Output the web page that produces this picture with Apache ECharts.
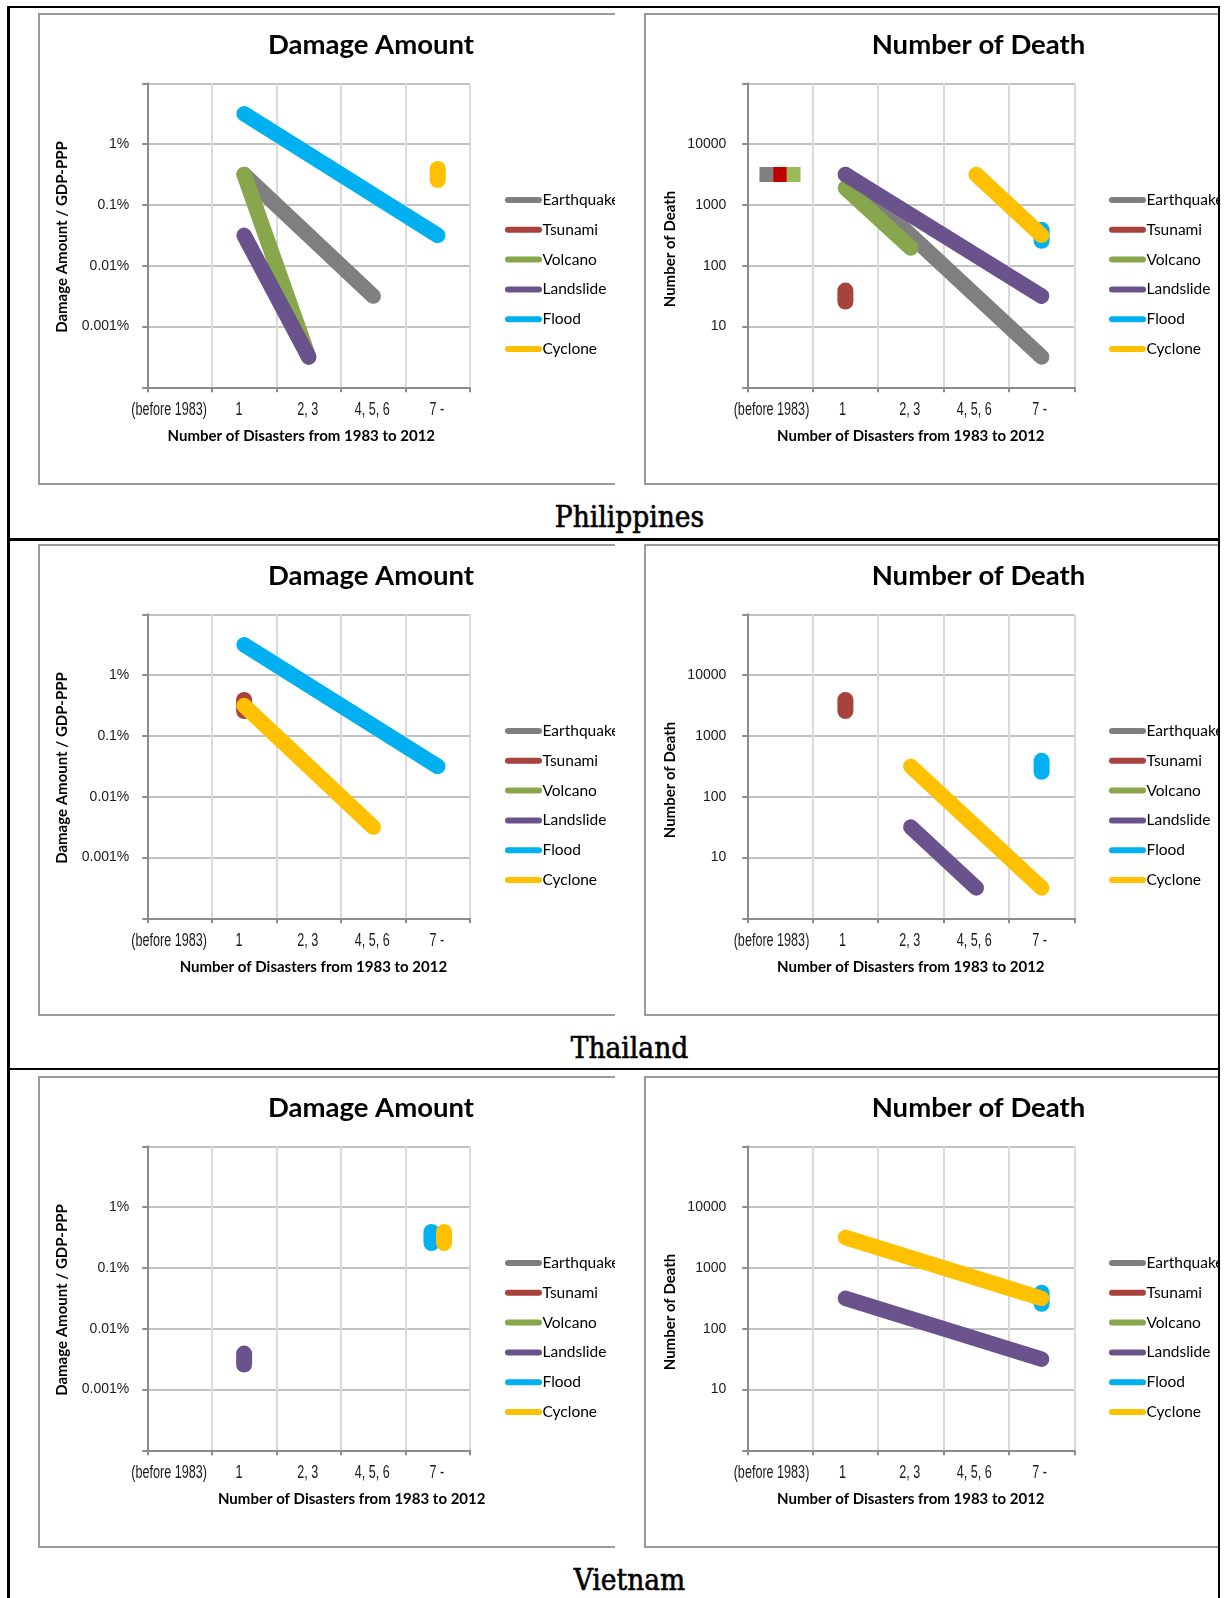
<!DOCTYPE html>
<html>
<head>
<meta charset="utf-8">
<title>Damage Amount and Number of Death by disaster frequency</title>
<script src="https://cdn.jsdelivr.net/npm/echarts@6/dist/echarts.min.js"></script>
<style>
  html, body { margin: 0; padding: 0; background: #fff; }
  #page { position: relative; width: 1226px; height: 1598px; overflow: hidden; background: #fff; }
  .rule { position: absolute; background: #000; z-index: 5; }
  .box { position: absolute; border: 2px solid #9a9a9a; border-right: none; overflow: hidden; background: #fff; }
  .chart { position: absolute; left: 0; top: 0; }
  .country { position: absolute; font-family: 'DejaVu Serif Condensed', 'DejaVu Serif', 'Liberation Serif', serif;
             font-stretch: condensed; font-size: 29.5px; line-height: 32px; color: #000; white-space: nowrap;
             -webkit-text-stroke: 0.6px #000; transform: translateX(-50%); }
</style>
</head>
<body>
<div id="page"></div>
<script>
// ---- categories, series names, tick labels ----
const categories = ['(before 1983)', '1', '2, 3', '4, 5, 6', '7 -'];
const hazards = ['Earthquake', 'Tsunami', 'Volcano', 'Landslide', 'Flood', 'Cyclone'];
const countries = ['Philippines', 'Thailand', 'Vietnam'];
// y tick labels, one per decade from the axis minimum upward
const damageTickLabels = ['', '0.001%', '0.01%', '0.1%', '1%', ''];
const deathTickLabels = ['', '10', '100', '1000', '10000', ''];

// ---- Philippines: damage amount (% of GDP-PPP) ----
const phDamageEarthquake = [null, 0.316, null, 0.00316, null];
const phDamageTsunami    = [null, null, null, null, null];
const phDamageVolcano    = [null, 0.316, 0.000316, null, null];
const phDamageLandslide  = [null, 0.0316, 0.000316, null, null];
const phDamageFlood      = [null, 3.16, null, null, 0.0316];
const phDamageCyclone    = [null, null, null, null, 0.316];
// ---- Philippines: number of death ----
const phDeathEarthquake = [null, 3162, null, null, 3.16];
const phDeathTsunami    = [null, 31.6, null, null, null];
const phDeathVolcano    = [null, 1900, 195, null, null];
const phDeathLandslide  = [null, 3162, null, null, 31.6];
const phDeathFlood      = [null, null, null, null, 316];
const phDeathCyclone    = [null, null, null, 3162, 316];
// events before 1983: Earthquake, Tsunami, Volcano
const phDeathBefore1983 = [3162, 3162, 3162];

// ---- Thailand: damage amount ----
const thDamageEarthquake = [null, null, null, null, null];
const thDamageTsunami    = [null, 0.316, null, null, null];
const thDamageVolcano    = [null, null, null, null, null];
const thDamageLandslide  = [null, null, null, null, null];
const thDamageFlood      = [null, 3.16, null, null, 0.0316];
const thDamageCyclone    = [null, 0.316, null, 0.00316, null];
// ---- Thailand: number of death ----
const thDeathEarthquake = [null, null, null, null, null];
const thDeathTsunami    = [null, 3162, null, null, null];
const thDeathVolcano    = [null, null, null, null, null];
const thDeathLandslide  = [null, null, 31.6, 3.16, null];
const thDeathFlood      = [null, null, null, null, 316];
const thDeathCyclone    = [null, null, 316, null, 3.16];

// ---- Vietnam: damage amount ----
const vnDamageEarthquake = [null, null, null, null, null];
const vnDamageTsunami    = [null, null, null, null, null];
const vnDamageVolcano    = [null, null, null, null, null];
const vnDamageLandslide  = [null, 0.00316, null, null, null];
const vnDamageFlood      = [null, null, null, null, 0.316];
const vnDamageCyclone    = [null, null, null, null, 0.316];
// ---- Vietnam: number of death ----
const vnDeathEarthquake = [null, null, null, null, null];
const vnDeathTsunami    = [null, null, null, null, null];
const vnDeathVolcano    = [null, null, null, null, null];
const vnDeathLandslide  = [null, 316, null, null, 31.6];
const vnDeathFlood      = [null, null, null, null, 316];
const vnDeathCyclone    = [null, 3162, null, null, 316];

// ---- styles ----
const hazardColors = ['#7f7f7f', '#a7423d', '#88a64b', '#6a528c', '#00b0f0', '#ffc000'];
const before1983Colors = ['#808080', '#c00000', '#9bbb59'];
const CAPSULE = 'path://M8,0A8,8,0,0,1,16,8V19A8,8,0,0,1,0,19V8A8,8,0,0,1,8,0Z';
const LEGEND_ICON = 'path://M3,0H34A3,3,0,0,1,34,6H3A3,3,0,0,1,3,0Z';
const SANS = 'Lato, Calibri, "Open Sans", sans-serif';
const TICK_FONT = '18px "Liberation Sans", Arial, sans-serif';

const sectionOffsets = [0, 531, 1063];
const GRID_TOP = 68.3, GRID_H = 304;

const kinds = {
  damage: {
    title: 'Damage Amount', yName: 'Damage Amount / GDP-PPP',
    yMin: 1e-4, yMax: 10, ticks: damageTickLabels,
    boxLeft: 38, width: 575, gridLeft: 107.3, gridWidth: 322.7,
    titleX: 331, yTitleX: 22, yTitleY: 222, legendLeft: 465, labelMargin: 18,
    tickShift: [-10.5, -5, -1, -1, -1]
  },
  death: {
    title: 'Number of Death', yName: 'Number of Death',
    yMin: 1, yMax: 1e5, ticks: deathTickLabels,
    boxLeft: 644, width: 574, gridLeft: 101.3, gridWidth: 327,
    titleX: 332.5, yTitleX: 23.7, yTitleY: 234, legendLeft: 463, labelMargin: 21,
    tickShift: [-8.5, -3, -1, -2, -2]
  }
};

const chartDefs = [
  { country: 0, kind: 'damage', xTitleX: 261.3,
    values: [phDamageEarthquake, phDamageTsunami, phDamageVolcano, phDamageLandslide, phDamageFlood, phDamageCyclone] },
  { country: 0, kind: 'death', xTitleX: 264.8, before: phDeathBefore1983,
    values: [phDeathEarthquake, phDeathTsunami, phDeathVolcano, phDeathLandslide, phDeathFlood, phDeathCyclone] },
  { country: 1, kind: 'damage', xTitleX: 273.4,
    values: [thDamageEarthquake, thDamageTsunami, thDamageVolcano, thDamageLandslide, thDamageFlood, thDamageCyclone] },
  { country: 1, kind: 'death', xTitleX: 264.8,
    values: [thDeathEarthquake, thDeathTsunami, thDeathVolcano, thDeathLandslide, thDeathFlood, thDeathCyclone] },
  { country: 2, kind: 'damage', xTitleX: 311.7,
    values: [vnDamageEarthquake, vnDamageTsunami, vnDamageVolcano, vnDamageLandslide, vnDamageFlood, vnDamageCyclone] },
  { country: 2, kind: 'death', xTitleX: 264.8,
    values: [vnDeathEarthquake, vnDeathTsunami, vnDeathVolcano, vnDeathLandslide, vnDeathFlood, vnDeathCyclone] }
];

// single-value series sharing one category are spread sideways
function pillOffsets(values) {
  const byCat = {};
  values.forEach((arr, i) => {
    const idx = [];
    arr.forEach((v, k) => { if (v != null) idx.push(k); });
    if (idx.length === 1) (byCat[idx[0]] = byCat[idx[0]] || []).push(i);
  });
  const off = values.map(() => 0);
  Object.keys(byCat).forEach(k => {
    const list = byCat[k];
    if (list.length > 1) list.forEach((si, j) => { off[si] = (j - (list.length - 1) / 2) * 12.5; });
  });
  return off;
}

function baseGraphics(def, k) {
  return [
    { id: 'title', type: 'text', x: k.titleX, y: 30, silent: true,
      style: { text: k.title, align: 'center', verticalAlign: 'middle', font: `bold 27.5px ${SANS}`, fill: '#000' } },
    { id: 'ytitle', type: 'text', x: k.yTitleX, y: k.yTitleY, rotation: Math.PI / 2, silent: true,
      style: { text: k.yName, align: 'center', verticalAlign: 'middle', font: `bold 15px ${SANS}`, fill: '#000' } },
    { id: 'xtitle', type: 'text', x: def.xTitleX, y: 421, silent: true,
      style: { text: 'Number of Disasters from 1983 to 2012', align: 'center', verticalAlign: 'middle',
               font: `bold 15px ${SANS}`, fill: '#000' } }
  ];
}

function buildOption(def) {
  const k = kinds[def.kind];
  const offs = pillOffsets(def.values);
  const series = def.values.map((arr, i) => {
    const single = arr.filter(v => v != null).length === 1;
    return {
      type: 'line', name: hazards[i], z: 3 + i,
      data: arr.map(v => (v == null ? '-' : v)),
      connectNulls: true, silent: true, animation: false,
      symbol: single ? CAPSULE : 'none', symbolSize: [16, 27],
      symbolOffset: [offs[i], 0], showSymbol: single, showAllSymbol: true,
      itemStyle: { color: hazardColors[i], opacity: 1 },
      lineStyle: { color: hazardColors[i], width: 15.5, cap: 'round', join: 'round', opacity: 1 },
      emphasis: { disabled: true }
    };
  });
  if (def.before) {
    def.before.forEach((v, i) => {
      series.push({
        type: 'scatter', name: hazards[i] + ' (before 1983)', z: 3,
        data: [[0, v]], silent: true, animation: false,
        symbol: 'rect', symbolSize: [13.7, 15], symbolOffset: [(i - 1) * 13.7, 0],
        itemStyle: { color: before1983Colors[i], opacity: 1 },
        emphasis: { disabled: true }
      });
    });
  }
  const logMin = Math.log10(k.yMin);
  return {
    animation: false,
    backgroundColor: '#fff',
    grid: { left: k.gridLeft, top: GRID_TOP, width: k.gridWidth, height: GRID_H, containLabel: false },
    xAxis: {
      type: 'category', data: categories, boundaryGap: true,
      axisLine: { lineStyle: { color: '#8c8c8c', width: 2 } },
      axisTick: { show: true, length: 5, interval: 0, lineStyle: { color: '#8c8c8c', width: 2 } },
      splitLine: { show: true, interval: 0, lineStyle: { color: '#dadada', width: 2 } },
      // category names are drawn as narrow text in the graphic layer
      axisLabel: { show: false }
    },
    yAxis: {
      type: 'log', logBase: 10, min: k.yMin, max: k.yMax, splitNumber: 5,
      axisLine: { show: true, lineStyle: { color: '#8c8c8c', width: 2 } },
      axisTick: { show: true, length: 5, lineStyle: { color: '#8c8c8c', width: 2 } },
      splitLine: { show: true, lineStyle: { color: '#c2c2c2', width: 2 } },
      minorTick: { show: false }, minorSplitLine: { show: false },
      axisLabel: {
        margin: k.labelMargin, color: '#1a1a1a', fontFamily: '"Liberation Sans", Arial, sans-serif', fontSize: 14,
        showMinLabel: true, showMaxLabel: true,
        formatter: v => k.ticks[Math.round(Math.log10(v) - logMin)] || ''
      }
    },
    legend: {
      data: hazards, orient: 'vertical', left: k.legendLeft, top: 177,
      itemWidth: 37, itemHeight: 6, itemGap: 13.8, icon: LEGEND_ICON,
      selectedMode: false, padding: 0,
      textStyle: { fontFamily: SANS, fontSize: 15.5, lineHeight: 16, color: '#000', padding: [0, 0, 0, -4.5] }
    },
    graphic: baseGraphics(def, k),
    series
  };
}

const page = document.getElementById('page');

chartDefs.forEach(def => {
  const k = kinds[def.kind];
  const box = document.createElement('div');
  box.className = 'box';
  box.style.left = k.boxLeft + 'px';
  box.style.top = (13 + sectionOffsets[def.country]) + 'px';
  box.style.width = k.width + 'px';
  box.style.height = '468px';
  const el = document.createElement('div');
  el.className = 'chart';
  el.style.width = k.width + 'px';
  el.style.height = '468px';
  box.appendChild(el);
  page.appendChild(box);
  const chart = echarts.init(el, null, { renderer: 'canvas', width: k.width, height: 468 });
  chart.setOption(buildOption(def));

  // narrow category labels placed at the band centres of the x axis
  const labelY = GRID_TOP + GRID_H + 22.7;
  const tickTexts = categories.map((c, i) => ({
    id: 'cat' + i, type: 'text', silent: true,
    x: chart.convertToPixel({ xAxisIndex: 0 }, c) + k.tickShift[i], y: labelY, scaleX: 0.7,
    style: { text: c, align: 'center', verticalAlign: 'middle', font: TICK_FONT, fill: '#1a1a1a' }
  }));
  chart.setOption({ graphic: baseGraphics(def, k).concat(tickTexts) });
});

// country captions
countries.forEach((name, i) => {
  const d = document.createElement('div');
  d.className = 'country';
  d.textContent = name;
  d.style.left = '629.5px';
  d.style.top = (501 + sectionOffsets[i]) + 'px';
  page.appendChild(d);
});

// surrounding frame and section dividers
function rule(left, top, width, height) {
  const r = document.createElement('div');
  r.className = 'rule';
  Object.assign(r.style, { left: left + 'px', top: top + 'px', width: width + 'px', height: height + 'px' });
  page.appendChild(r);
}
rule(7, 6, 1213, 2);        // top
rule(7, 6, 3, 1600);        // left
rule(1218, 6, 2, 1600);     // right
rule(7, 538, 1213, 2.5);    // Philippines | Thailand
rule(7, 1067.5, 1213, 2.5); // Thailand | Vietnam
</script>
</body>
</html>
